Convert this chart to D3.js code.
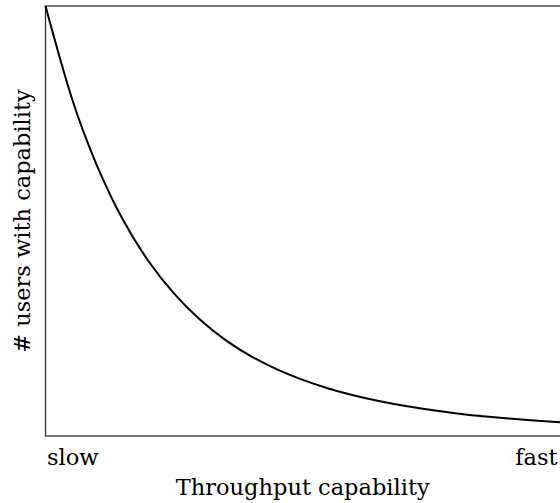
<!DOCTYPE html>
<html><head><meta charset="utf-8">
<script src="https://cdn.jsdelivr.net/npm/d3@7"></script>
<style>body{margin:0;background:#fff}</style>
</head><body>
<svg id="c" width="560" height="503"></svg>
<script>
// Data (relative units)
const capability = [0,0.05,0.10,0.15,0.20,0.25,0.30,0.35,0.40,0.45,0.50,0.55,0.60,0.65,0.70,0.75,0.80,0.85,0.90,0.95,1.00];
const users = [1.000,0.790,0.629,0.504,0.407,0.331,0.271,0.223,0.185,0.155,0.1306,0.1106,0.0942,0.0808,0.0697,0.0604,0.0526,0.0461,0.0405,0.0358,0.0317];
const tickValues = [0, 1];
const tickLabels = ["slow", "fast"];
const xTitle = "Throughput capability";
const yTitle = "# users with capability";

const W=560,H=503;
const m={left:45.5,top:6,right:0,bottom:67};
const svg=d3.select("#c");
const font="'DejaVu Serif',serif";
const fs=22.5;
const x=d3.scaleLinear().domain([0,1]).range([m.left,W-m.right]);
const y=d3.scaleLinear().domain([0,1]).range([H-m.bottom,m.top]);

// frame
svg.append("rect").attr("x",m.left).attr("y",m.top)
  .attr("width",W-m.right-m.left+1).attr("height",(H-m.bottom)-m.top)
  .attr("fill","none").attr("stroke","#333").attr("stroke-width",1.3);

// curve
const data=capability.map((c,i)=>[c,users[i]]);
svg.append("path").datum(data)
  .attr("fill","none").attr("stroke","#000").attr("stroke-width",2)
  .attr("d",d3.line().x(d=>x(d[0])).y(d=>y(d[1])).curve(d3.curveNatural));

// x axis labels
const ax=svg.append("g").attr("transform",`translate(0,${H-m.bottom})`)
  .call(d3.axisBottom(x).tickValues(tickValues).tickSize(0).tickPadding(0)
    .tickFormat((d,i)=>tickLabels[i]));
ax.select(".domain").remove();
ax.selectAll("text").attr("font-family",font).attr("font-size",fs).attr("fill","#000")
  .attr("dy",null).attr("y",29)
  .attr("text-anchor",(d,i)=>i===0?"start":"end")
  .attr("dx",(d,i)=>i===0?1:-3);

svg.append("text").attr("x",(m.left+W)/2).attr("y",495)
  .attr("text-anchor","middle").attr("font-family",font).attr("font-size",fs).text(xTitle);
svg.append("text").attr("transform",`translate(30,${(m.top+H-m.bottom)/2}) rotate(-90)`)
  .attr("text-anchor","middle").attr("font-family",font).attr("font-size",fs).text(yTitle);
</script></body></html>
